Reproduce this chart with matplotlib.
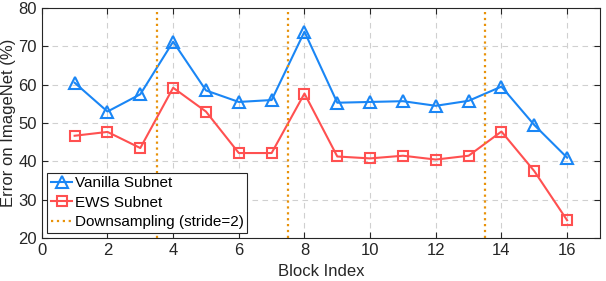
import matplotlib
matplotlib.use("Agg")
import matplotlib.pyplot as plt

plt.rcParams['font.family'] = ['Liberation Sans', 'DejaVu Sans']

blocks = list(range(1, 17))
vanilla = [60.5, 53.0, 57.5, 71.2, 58.5, 55.5, 56.0, 73.8, 55.3, 55.5, 55.7, 54.5, 55.8, 59.5, 49.5, 41.0]
ews = [46.7, 47.7, 43.5, 59.2, 53.0, 42.2, 42.2, 57.7, 41.3, 40.8, 41.5, 40.5, 41.5, 47.8, 37.5, 24.7]
downsample_at = [3.5, 7.5, 13.5]

fig = plt.figure(figsize=(6.06, 2.81), dpi=100)
ax = fig.add_axes([0.069, 0.152, 0.921, 0.82])

blue = '#1a86f5'
red = '#ff5050'
orange = '#e8920a'

ax.plot(blocks, vanilla, '-^', color=blue, lw=1.5, ms=9, mfc='none', mew=1.5,
        label='Vanilla Subnet')
ax.plot(blocks, ews, '-s', color=red, lw=1.5, ms=7, mfc='none', mew=1.5,
        label='EWS Subnet')
for i, x in enumerate(downsample_at):
    ax.axvline(x, color=orange, ls=':', lw=1.6,
               label='Downsampling (stride=2)' if i == 0 else None)

ax.set_xlim(0, 17)
ax.set_ylim(20, 80)
ax.set_xticks(range(0, 17, 2))
ax.set_yticks(range(20, 81, 10))
ax.grid(True, ls=(0, (5, 4)), color='#d0d0d0', lw=0.8)
ax.set_axisbelow(True)
ax.tick_params(direction='in', labelsize=12, length=4, top=True, right=True,
               colors='#262626')
for s in ax.spines.values():
    s.set_color('#262626')
    s.set_linewidth(0.8)
ax.set_xlabel('Block Index', fontsize=12, labelpad=4, color='#262626')
ax.set_ylabel('Error on ImageNet (%)', fontsize=12, labelpad=2, color='#262626')

leg = ax.legend(loc='lower left', fontsize=11, handlelength=1.4, handletextpad=0.15,
                borderpad=0.25, labelspacing=0.35, borderaxespad=0.35,
                fancybox=False, framealpha=1)
leg.get_frame().set_edgecolor('#262626')
leg.get_frame().set_linewidth(0.8)

fig.savefig('out.png', dpi=100)
